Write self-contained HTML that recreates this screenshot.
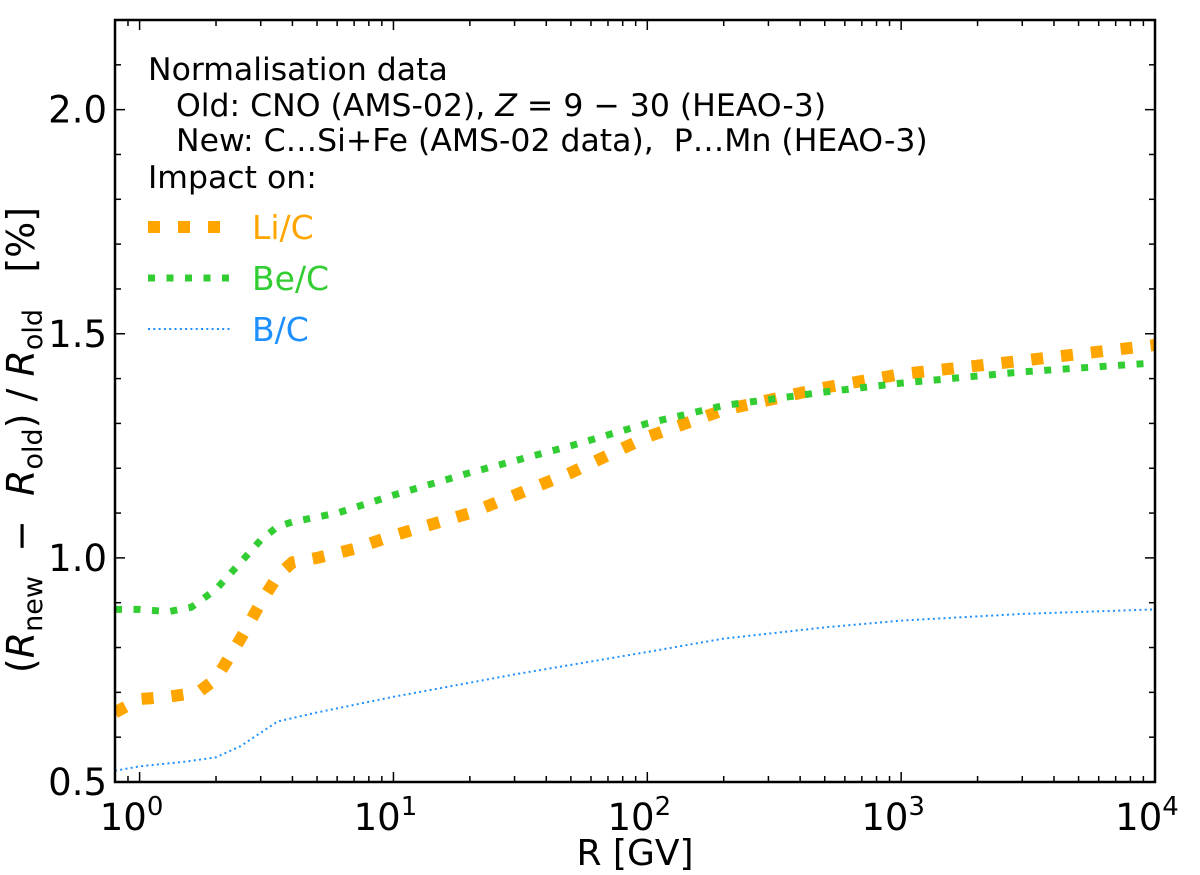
<!DOCTYPE html>
<html><head><meta charset="utf-8"><style>
body{margin:0;background:#fff}
svg text{font-family:"DejaVu Sans","Liberation Sans",sans-serif}
</style></head><body>
<svg id="c" width="1200" height="870" xmlns="http://www.w3.org/2000/svg"></svg>
<script>
const liX=[0.8,1,1.3,1.7,2,2.5,3,3.5,4,5,7,10,20,50,100,200,500,1000,3000,10000];
const liY=[0.655,0.685,0.69,0.70,0.73,0.82,0.90,0.96,0.99,1.0,1.02,1.05,1.10,1.19,1.27,1.33,1.38,1.41,1.44,1.475];
const beX=[0.8,1,1.3,1.6,2,2.5,3,3.5,4,6,10,20,50,100,200,500,1000,3000,10000];
const beY=[0.885,0.885,0.88,0.89,0.93,0.99,1.04,1.07,1.08,1.10,1.14,1.19,1.25,1.30,1.34,1.37,1.39,1.415,1.435];
const bX=[0.8,1,1.5,2,2.5,3,3.5,5,10,30,100,200,500,1000,3000,10000];
const bY=[0.525,0.535,0.545,0.555,0.58,0.61,0.635,0.655,0.69,0.74,0.79,0.82,0.845,0.86,0.875,0.885];
const yTicks=[0.5,1.0,1.5,2.0];
const yTickLabels=["0.5","1.0","1.5","2.0"];
const xDecades=[0,1,2,3,4];

const NS="http://www.w3.org/2000/svg";
const svg=document.getElementById('c');
const L=115,R=1155,T=20,B=782;
const xmin=Math.log10(0.8),xmax=4,ymin=0.5,ymax=2.2;
const sx=v=>L+(Math.log10(v)-xmin)/(xmax-xmin)*(R-L);
const sy=v=>B-(v-ymin)/(ymax-ymin)*(B-T);
function el(t,a,p){const e=document.createElementNS(NS,t);for(const k in a)e.setAttribute(k,a[k]);(p||svg).appendChild(e);return e;}
function txt(s,x,y,a){const e=el('text',Object.assign({x:x,y:y},a||{}));e.textContent=s;return e;}

const defs=el('defs',{});const cp=el('clipPath',{id:'pc'},defs);el('rect',{x:L,y:T,width:R-L,height:B-T},cp);

function series(xs,ys,color,w,dash,name){
  const d=xs.map((x,i)=>(i?'L':'M')+sx(x).toFixed(1)+','+sy(ys[i]).toFixed(1)).join('');
  const p=el('path',{d:d,fill:'none',stroke:color,'stroke-width':w,'stroke-dasharray':dash,'clip-path':'url(#pc)'});
  
  
}
series(liX,liY,'#ffa500',12,'12 18','line-li-c');
series(beX,beY,'#32cd32',7,'7 11.5','line-be-c');
series(bX,bY,'#1e90ff',2,'2 3.3','line-b-c');

const fr=el('rect',{x:L,y:T,width:R-L,height:B-T,fill:'none',stroke:'#000','stroke-width':2.5});



for(let v=0.5;v<=2.2001;v+=0.1){
  const y=sy(v);const major=Math.abs(v*2-Math.round(v*2))<1e-6;const len=major?10:6;
  el('line',{x1:L,x2:L+len,y1:y,y2:y,stroke:'#000','stroke-width':1.5});
  el('line',{x1:R,x2:R-len,y1:y,y2:y,stroke:'#000','stroke-width':1.5});
}
yTicks.forEach((v,i)=>{const t=txt(yTickLabels[i],L-8,sy(v)+13,{'font-size':37,'text-anchor':'end'});

});

for(let d=-1;d<=4;d++){for(let m=1;m<10;m++){const v=m*Math.pow(10,d);if(v<0.8||v>10000)continue;
  const x=sx(v);const len=m==1?10:6;
  el('line',{x1:x,x2:x,y1:B,y2:B-len,stroke:'#000','stroke-width':1.5});
  el('line',{x1:x,x2:x,y1:T,y2:T+len,stroke:'#000','stroke-width':1.5});}}
xDecades.forEach(d=>{const x=sx(Math.pow(10,d));
  const t=el('text',{x:x-8,y:817+13,'font-size':37,'text-anchor':'middle'});
  
  
  t.appendChild(document.createTextNode('10'));
  const s=el('tspan',{dy:-15,'font-size':26},t);s.textContent=String(d);});
</script>
<svg style="position:absolute;left:0;top:0" width="1200" height="870">
<text x="635" y="865" style="font-family:'DejaVu Sans','Liberation Sans',sans-serif;font-size:36px" text-anchor="middle">R [GV]</text>
<text transform="translate(34,440) rotate(-90)" text-anchor="middle" xml:space="preserve" style="font-family:'DejaVu Sans','Liberation Sans',sans-serif;font-size:38px">(<tspan font-style="italic">R</tspan><tspan style="font-size:27px" dy="8">new</tspan><tspan dy="-8">  −  </tspan><tspan font-style="italic">R</tspan><tspan style="font-size:27px" dy="8">old</tspan><tspan dy="-8">) / </tspan><tspan font-style="italic">R</tspan><tspan style="font-size:27px" dy="8">old</tspan><tspan dy="-8">   [%]</tspan></text>
<g style="font-family:'DejaVu Sans','Liberation Sans',sans-serif;font-size:31.5px">
<text x="148" y="80">Normalisation data</text>
<text x="176" y="116" xml:space="preserve">Old: CNO (AMS-02), <tspan font-style="italic">Z</tspan> = 9 − 30 (HEAO-3)</text>
<text x="176" y="151" xml:space="preserve">New: C…Si+Fe (AMS-02 data),  P…Mn (HEAO-3)</text>
<text x="148" y="188">Impact on:</text>
<line x1="148" x2="232" y1="227" y2="227" stroke="#ffa500" stroke-width="12" stroke-dasharray="12 18"/>
<line x1="148" x2="232" y1="278" y2="278" stroke="#32cd32" stroke-width="7" stroke-dasharray="7 11.5"/>
<line x1="148" x2="232" y1="329" y2="329" stroke="#1e90ff" stroke-width="2" stroke-dasharray="2 3.3"/>
<text x="252" y="239" style="fill:#ffa500;font-size:33px">Li/C</text>
<text x="252" y="290" style="fill:#32cd32;font-size:33px">Be/C</text>
<text x="252" y="341" style="fill:#1e90ff;font-size:33px">B/C</text>
</g>
</svg>
</body></html>
